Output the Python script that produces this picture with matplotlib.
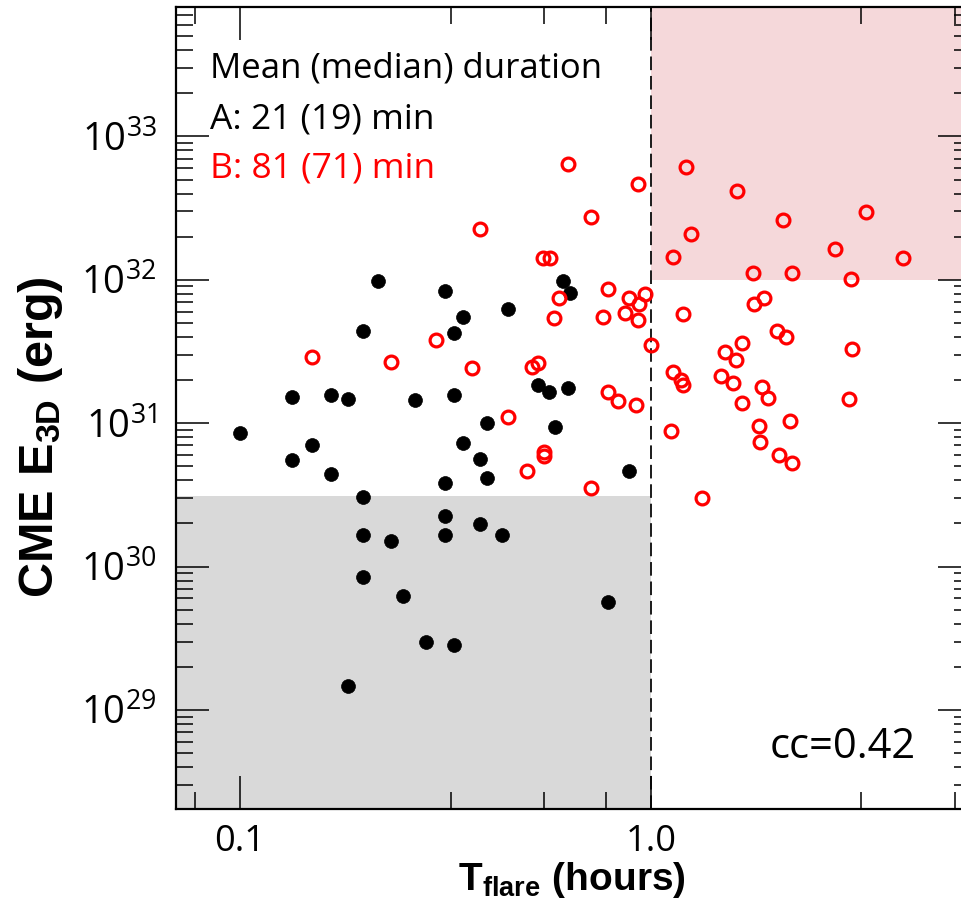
import matplotlib
matplotlib.use("Agg")
import matplotlib.pyplot as plt
from matplotlib.ticker import FixedLocator, NullFormatter, FixedFormatter, LogLocator

plt.rcParams['font.family'] = ['Open Sans', 'DejaVu Sans']
plt.rcParams['mathtext.fontset'] = 'custom'
plt.rcParams['mathtext.rm'] = 'Open Sans'
plt.rcParams['mathtext.it'] = 'Open Sans:italic'
plt.rcParams['mathtext.bf'] = 'Liberation Sans:bold'

# Group A (black filled): flare duration (hours), CME energy (erg)
a_t = [0.100, 0.134, 0.134, 0.150, 0.1665, 0.1665, 0.183, 0.199, 0.199, 0.199,
       0.199, 0.2167, 0.233, 0.249, 0.2666, 0.2836, 0.315, 0.315, 0.315, 0.315,
       0.3315, 0.3315, 0.3315, 0.3487, 0.3487, 0.3836, 0.3836, 0.399, 0.399, 0.434,
       0.4488, 0.183, 0.531, 0.565, 0.584, 0.6106, 0.635, 0.628, 0.884, 0.786]
a_e = [8.61e30, 1.536e31, 5.58e30, 7.10e30, 1.586e31, 4.46e30, 1.486e31, 4.43e31, 3.08e30, 1.67e30,
       8.53e29, 9.89e31, 1.52e30, 6.19e29, 1.463e31, 2.96e29, 8.42e31, 3.86e30, 2.24e30, 1.67e30,
       4.29e31, 1.586e31, 2.86e29, 5.55e31, 7.33e30, 5.67e30, 1.97e30, 1.01e31, 4.18e30, 1.67e30,
       6.31e31, 1.46e29, 1.86e31, 1.66e31, 9.48e30, 9.89e31, 8.15e31, 1.75e31, 4.68e30, 5.71e29]

# Group B (red open): flare duration (hours), CME energy (erg)
b_t = [0.150, 0.233, 0.2998, 0.3667, 0.3836, 0.4488, 0.4993, 0.5135, 0.531, 0.5461,
       0.5678, 0.5807, 0.5972, 0.5492, 0.5492, 0.7145, 0.7641, 0.7858, 0.8312, 0.9194,
       0.7858, 0.8643, 0.8841, 0.935, 0.9297, 0.967, 1.000, 0.9297, 0.628, 0.7145,
       1.131, 1.216, 1.251, 1.196, 1.131, 1.183, 1.196, 1.119, 1.331, 1.480,
       1.514, 1.583, 1.610, 1.665, 1.665, 1.619, 1.771, 1.781, 1.883, 1.862,
       1.926, 1.831, 1.842, 2.026, 2.130, 2.095, 2.179, 2.048, 2.203, 2.203,
       2.804, 3.066, 3.083, 3.032, 3.336, 4.104]
b_e = [2.92e31, 2.69e31, 3.83e31, 2.41e31, 2.28e32, 1.11e31, 4.68e30, 2.45e31, 2.65e31, 1.41e32,
       1.41e32, 5.46e31, 7.53e31, 6.35e30, 5.95e30, 3.56e30, 5.55e31, 1.64e31, 1.42e31, 1.35e31,
       8.70e31, 5.92e31, 7.53e31, 6.83e31, 5.29e31, 8.03e31, 3.54e31, 4.69e32, 6.47e32, 2.76e32,
       1.45e32, 6.17e32, 2.10e32, 5.82e31, 2.29e31, 1.99e31, 1.86e31, 8.89e30, 3.03e30, 2.12e31,
       3.16e31, 1.92e31, 2.78e31, 3.65e31, 1.39e31, 4.20e32, 1.11e32, 6.83e31, 7.53e31, 1.80e31,
       1.51e31, 9.64e30, 7.45e30, 4.43e31, 4.02e31, 2.63e32, 1.03e31, 6.05e30, 5.32e30, 1.12e32,
       1.63e32, 1.02e32, 3.32e31, 1.486e31, 2.99e32, 1.43e32]

x_ticks = [0.1, 1.0]
x_tick_labels = ["0.1", "1.0"]
x_minor = [0.0778, 0.326, 0.55, 0.776, 3.24, 5.5]
y_ticks = [1e29, 1e30, 1e31, 1e32, 1e33]
y_tick_labels = [r"$\mathrm{10^{29}}$", r"$\mathrm{10^{30}}$", r"$\mathrm{10^{31}}$",
                 r"$\mathrm{10^{32}}$", r"$\mathrm{10^{33}}$"]

t_split = 1.0
e_low = 3.1e30
e_high = 1.0e32
xlim = (0.0699, 6.0)
ylim = (2.04e28, 8.0e33)

fig = plt.figure(figsize=(9.62, 9.05), dpi=100)
ax = fig.add_axes([176/962, 96/905, 795/962, 802/905])
ax.set_xscale('log')
ax.set_yscale('log')
ax.set_xlim(*xlim)
ax.set_ylim(*ylim)

ax.fill_between([xlim[0], t_split], ylim[0], e_low, color='#d9d9d9', lw=0, zorder=0)
ax.fill_between([t_split, xlim[1]], e_high, ylim[1], color='#f5d8da', lw=0, zorder=0)
ax.axvline(t_split, color='#1a1a1a', lw=1.4, dashes=(7, 3), zorder=1)

ax.plot(a_t, a_e, 'o', ms=10.0, mfc='black', mec='black', mew=0.5, ls='none', zorder=3)
ax.plot(b_t, b_e, 'o', ms=9.2, mfc='none', mec='#ff0000', mew=2.3, ls='none', zorder=4)

ax.xaxis.set_major_locator(FixedLocator(x_ticks))
ax.xaxis.set_major_formatter(FixedFormatter(x_tick_labels))
ax.xaxis.set_minor_locator(FixedLocator(x_minor))
ax.xaxis.set_minor_formatter(NullFormatter())
ax.yaxis.set_major_locator(FixedLocator(y_ticks))
ax.yaxis.set_major_formatter(FixedFormatter(y_tick_labels))
ax.yaxis.set_minor_locator(LogLocator(base=10, subs=[2, 3, 4, 5, 6, 7, 8, 9], numticks=20))
ax.yaxis.set_minor_formatter(NullFormatter())

ax.tick_params(which='both', direction='in', top=True, right=True, width=1.1, colors='black')
ax.tick_params(which='major', length=23.5)
ax.tick_params(axis='x', which='major', pad=11, labelsize=26)
ax.tick_params(axis='y', which='major', pad=14, labelsize=27.5)
ax.tick_params(which='minor', length=12)
for s in ax.spines.values():
    s.set_linewidth(1.6)

ax.set_xlabel(r"$\mathbf{T_{flare}\ (hours)}$", fontsize=28)
ax.xaxis.set_label_coords(0.498, -0.063)
ax.set_ylabel(r"$\mathbf{CME\ E_{3D}\ (erg)}$", fontsize=35)
ax.yaxis.set_label_coords(-0.14, 0.464)

ax.text(0.0428, 0.9127, "Mean (median) duration", transform=ax.transAxes,
        fontsize=25, color='black', va='baseline', ha='left')
ax.text(0.0428, 0.849, "A: 21 (19) min", transform=ax.transAxes,
        fontsize=25.5, color='black', va='baseline', ha='left')
ax.text(0.0428, 0.788, "B: 81 (71) min", transform=ax.transAxes,
        fontsize=25.5, color='#ff0000', va='baseline', ha='left')
ax.text(0.93, 0.0636, "cc=0.42", transform=ax.transAxes,
        fontsize=30, color='black', va='baseline', ha='right')

fig.savefig("out.png", dpi=100)
